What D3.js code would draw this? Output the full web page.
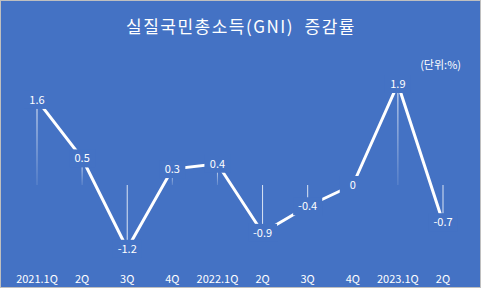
<!DOCTYPE html>
<html>
<head>
<meta charset="utf-8">
<script src="https://cdn.jsdelivr.net/npm/d3@7"></script>
<style>
  body { margin: 0; background: #fff; }
  svg { display: block; }
  text { font-family: "Noto Sans CJK KR", "Noto Sans", sans-serif; fill: #fff; }
</style>
</head>
<body>
<script>
var width = 481;
var height = 289;

// quarters and values
var quarters = ['2021.1Q', '2Q', '3Q', '4Q', '2022.1Q', '2Q ', '3Q ', '4Q ', '2023.1Q', '2Q  '];
var tickLabels = ['2021.1Q', '2Q', '3Q', '4Q', '2022.1Q', '2Q', '3Q', '4Q', '2023.1Q', '2Q'];
var gni = [1.6, 0.5, -1.2, 0.3, 0.4, -0.9, -0.4, 0, 1.9, -0.7];

var title = '실질국민총소득(GNI)  증감률';
var unit = '(단위:%)';

var data = quarters.map(function (q, i) { return { q: q, label: tickLabels[i], v: gni[i] }; });

var svg = d3.select('body').append('svg')
  .attr('width', width)
  .attr('height', height);

var defs = svg.append('defs');
var grad = defs.append('linearGradient')
  .attr('id', 'fade')
  .attr('x1', 0).attr('y1', 0).attr('x2', 0).attr('y2', 1);
grad.append('stop').attr('offset', '0%').attr('stop-color', '#fff').attr('stop-opacity', 0.95);
grad.append('stop').attr('offset', '100%').attr('stop-color', '#fff').attr('stop-opacity', 0.15);

svg.append('rect')
  .attr('x', 0.5).attr('y', 0.5)
  .attr('width', width - 1).attr('height', height - 2)
  .attr('fill', '#4472C4')
  .attr('stroke', '#BFBFBF');

var x = d3.scalePoint()
  .domain(quarters)
  .range([37, 443]);

var y = d3.scaleLinear()
  .domain([0, 1.9])
  .range([185, 84]);

// title + unit
svg.append('text')
  .attr('x', 241)
  .attr('y', 33)
  .attr('text-anchor', 'middle')
  .style('font-size', '17px')
  .style('letter-spacing', '1.5px')
  .style('white-space', 'pre')
  .text(title);

svg.append('text')
  .attr('x', 461)
  .attr('y', 69)
  .attr('text-anchor', 'end')
  .style('font-size', '11px')
  .text(unit);

// thin drop lines from the point to zero
svg.append('g')
  .selectAll('rect')
  .data(data.filter(function (d) { return d.v !== 0; }))
  .enter().append('rect')
  .attr('x', function (d) { return x(d.q) - 0.5; })
  .attr('y', function (d) { return Math.min(y(d.v), y(0)); })
  .attr('width', 1)
  .attr('height', function (d) { return Math.abs(y(d.v) - y(0)); })
  .attr('fill', function (d) { return d.v > 0 ? 'url(#fade)' : 'rgba(255,255,255,0.8)'; });

var line = d3.line()
  .x(function (d) { return x(d.q); })
  .y(function (d) { return y(d.v); });

svg.append('path')
  .datum(data)
  .attr('d', line)
  .attr('fill', 'none')
  .attr('stroke', '#fff')
  .attr('stroke-width', 3);

// data labels sit on the points with a blue box behind them
var labels = svg.append('g')
  .selectAll('g')
  .data(data)
  .enter().append('g')
  .attr('transform', function (d) { return 'translate(' + x(d.q) + ',' + y(d.v) + ')'; });

labels.append('rect')
  .attr('fill', '#4472C4');

labels.append('text')
  .attr('text-anchor', 'middle')
  .attr('y', 4)
  .style('font-size', '11px')
  .text(function (d) { return String(d.v); })
  .each(function () {
    var w = Math.max(this.getComputedTextLength() + 10, 26);
    d3.select(this.parentNode).select('rect')
      .attr('x', -w / 2).attr('y', -9)
      .attr('width', w).attr('height', 18);
  });

// category labels
svg.append('g')
  .selectAll('text')
  .data(data)
  .enter().append('text')
  .attr('x', function (d) { return x(d.q); })
  .attr('y', 283)
  .attr('text-anchor', 'middle')
  .style('font-size', '11px')
  .text(function (d) { return d.label; });
</script>
</body>
</html>
